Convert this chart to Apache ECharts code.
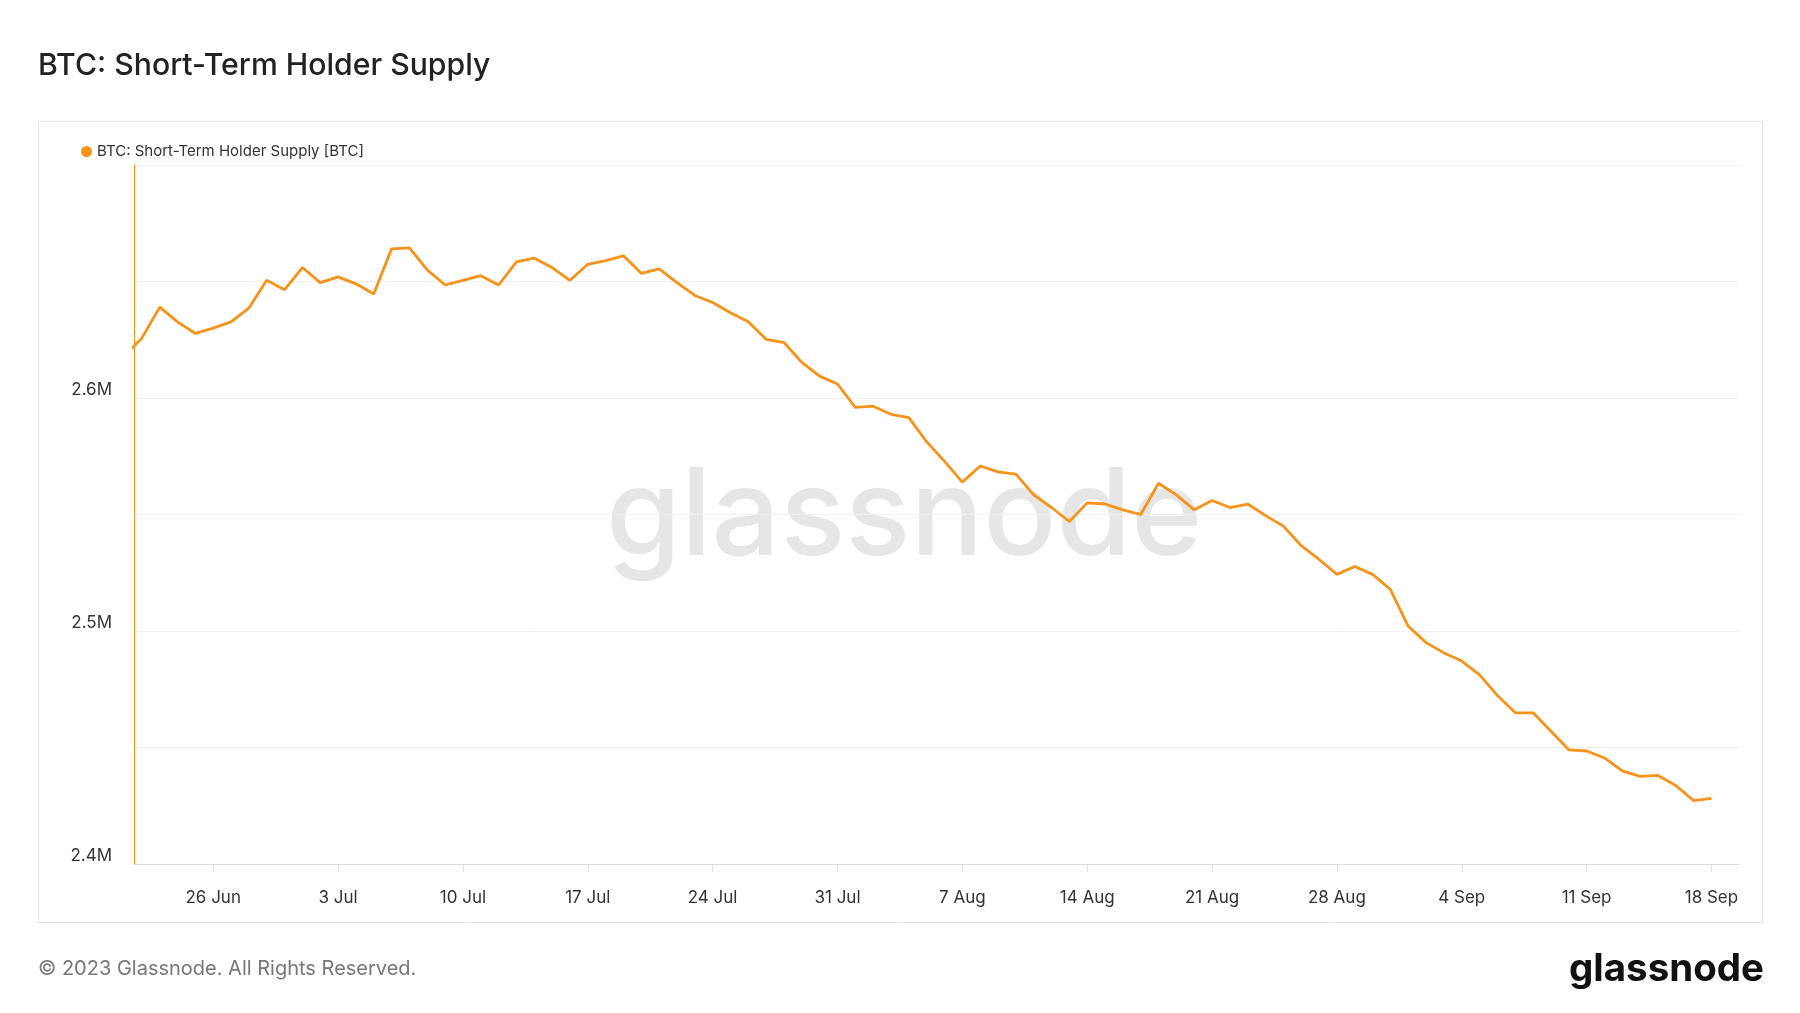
<!DOCTYPE html>
<html><head><meta charset="utf-8">
<script src="https://cdn.jsdelivr.net/npm/echarts@6/dist/echarts.min.js"></script>
<style>html,body{margin:0;padding:0;background:#fff}#c{width:1800px;height:1013px}</style>
</head><body><div id="c"></div>
<script>
const startDate = '2023-06-21';
const supply = [2.618,2.6257,2.639,2.6327,2.6277,2.630,2.6327,2.6386,2.6505,2.6465,2.656,2.6495,2.652,2.649,2.6446,2.664,2.6644,2.655,2.6485,2.6505,2.6525,2.6485,2.6584,2.660,2.656,2.6505,2.6574,2.659,2.661,2.6535,2.6554,2.6495,2.644,2.641,2.6366,2.6327,2.6252,2.6238,2.6153,2.6094,2.606,2.596,2.5965,2.593,2.5916,2.5812,2.5728,2.5639,2.5708,2.5683,2.5673,2.5584,2.553,2.547,2.555,2.5545,2.552,2.550,2.5634,2.5584,2.552,2.556,2.553,2.5545,2.5495,2.545,2.5366,2.5307,2.5243,2.5277,2.5243,2.5178,2.502,2.495,2.4906,2.4871,2.4812,2.4723,2.4649,2.4649,2.457,2.449,2.4485,2.4455,2.44,2.4376,2.438,2.4337,2.4272,2.4282];
const tickDates = ['2023-06-26','2023-07-03','2023-07-10','2023-07-17','2023-07-24','2023-07-31','2023-08-07','2023-08-14','2023-08-21','2023-08-28','2023-09-04','2023-09-11','2023-09-18'];
const yTickLabels = [2.4,2.5,2.6];
const DAY = 86400000;
const t0 = Date.parse(startDate+'T00:00:00Z');
const data = supply.map((v,i)=>[i, v*1e6]);
const ticks = tickDates.map(d=>Math.round((Date.parse(d+'T00:00:00Z')-t0)/DAY));
const months=['Jan','Feb','Mar','Apr','May','Jun','Jul','Aug','Sep','Oct','Nov','Dec'];
const chart = echarts.init(document.getElementById('c'));
chart.setOption({
  animation:false,
  textStyle:{fontFamily:'Inter'},
  title:{text:'BTC: Short-Term Holder Supply',left:33,top:46,textStyle:{fontSize:30.2,fontWeight:500,color:'#222',fontFamily:'Inter'}},
  legend:{left:76,top:139,icon:'circle',itemWidth:11,itemHeight:11,itemGap:6,textStyle:{fontSize:15,color:'#333'}},
  graphic:[
    {type:'rect',shape:{x:38.5,y:121.5,width:1724,height:801},style:{fill:'none',stroke:'#e3e3e3',lineWidth:1},silent:true},
    {type:'text',left:38,top:959,style:{text:'© 2023 Glassnode. All Rights Reserved.',fontSize:20,fill:'#777',fontFamily:'Inter'}},
    {type:'text',right:36,top:950,style:{text:'glassnode',fontSize:38.5,fontWeight:'bold',fill:'#111',fontFamily:'Inter'}},
    {type:'text',left:606,top:458,z:-1,style:{text:'glassnode',fontSize:121,fontWeight:'500',fill:'#e6e6e6',fontFamily:'Inter'},silent:true}
  ],
  grid:{left:134,right:60,top:165,bottom:149},
  xAxis:{type:'value',min:0.56,max:90.6,
    axisLine:{lineStyle:{color:'#ddd'}},
    axisTick:{customValues:ticks,length:8,lineStyle:{color:'#ddd'}},
    axisLabel:{customValues:ticks,margin:25,fontSize:17,color:'#333',
      formatter:v=>{const d=new Date(t0+v*DAY);return d.getUTCDate()+' '+months[d.getUTCMonth()];}},
    splitLine:{show:false}},
  yAxis:{type:'value',min:2.4e6,max:2.7e6,interval:50000,
    axisLine:{show:true,lineStyle:{color:'#f7931a',width:1}},
    axisTick:{show:false},
    axisLabel:{margin:22,fontSize:17,color:'#333',verticalAlign:'bottom',
      formatter:v=>{const m=Math.round(v/1e5)/10; return yTickLabels.some(t=>Math.abs(t*1e6-v)<1)? m.toFixed(1)+'M':'';}},
    splitLine:{lineStyle:{color:'#f0f0f0'}}},
  series:[{name:'BTC: Short-Term Holder Supply [BTC]',type:'line',data:data,showSymbol:false,symbol:'circle',
    lineStyle:{color:'#f7931a',width:2.8},itemStyle:{color:'#f7931a'},clip:true}]
});
</script></body></html>
